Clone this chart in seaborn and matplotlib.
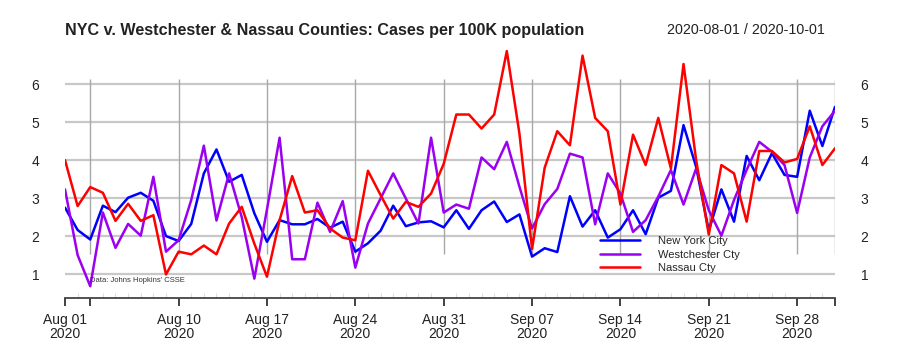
import pandas as pd
import seaborn as sns
import matplotlib.pyplot as plt
import matplotlib.dates as mdates

dates = pd.date_range('2020-08-01', '2020-10-01', freq='D')

nyc = [2.75, 2.16, 1.91, 2.80, 2.63, 3.01, 3.14, 2.93, 2.00, 1.87,
       2.32, 3.65, 4.28, 3.43, 3.61, 2.60, 1.85, 2.42, 2.31, 2.31,
       2.45, 2.22, 2.38, 1.59, 1.81, 2.14, 2.80, 2.26, 2.36, 2.39,
       2.23, 2.68, 2.19, 2.68, 2.91, 2.37, 2.57, 1.46, 1.68, 1.58,
       3.05, 2.25, 2.68, 1.96, 2.18, 2.68, 2.05, 3.01, 3.19, 4.92,
       3.82, 2.14, 3.23, 2.38, 4.11, 3.47, 4.18, 3.61, 3.56, 5.30,
       4.37, 5.40]
westchester = [3.23, 1.50, 0.68, 2.62, 1.69, 2.32, 2.01, 3.56, 1.59, 1.89,
               2.95, 4.38, 2.41, 3.65, 2.50, 0.88, 2.70, 4.59, 1.39, 1.39,
               2.88, 2.11, 2.92, 1.17, 2.33, 2.99, 3.65, 2.99, 2.33, 4.59,
               2.62, 2.83, 2.72, 4.07, 3.76, 4.48, 3.30, 2.20, 2.84, 3.24,
               4.17, 4.07, 2.31, 3.65, 3.12, 2.11, 2.42, 3.04, 3.74, 2.83,
               3.78, 2.68, 2.01, 2.95, 3.74, 4.48, 4.22, 3.87, 2.61, 4.07,
               4.89, 5.30]
nassau = [4.00, 2.79, 3.29, 3.14, 2.40, 2.85, 2.40, 2.55, 0.99, 1.59,
          1.52, 1.75, 1.52, 2.33, 2.77, 1.80, 0.93, 2.42, 3.58, 2.62,
          2.68, 2.20, 1.96, 1.89, 3.72, 3.08, 2.46, 2.90, 2.77, 3.12,
          3.90, 5.20, 5.20, 4.83, 5.20, 6.87, 4.70, 1.66, 3.80, 4.76,
          4.39, 6.75, 5.11, 4.76, 2.83, 4.67, 3.87, 5.11, 3.78, 6.53,
          4.00, 2.04, 3.87, 3.65, 2.38, 4.24, 4.24, 3.94, 4.03, 4.89,
          3.87, 4.31]

series_names = ['New York City', 'Westchester Cty', 'Nassau Cty']
series_colors = ['#0000ff', '#9b00f0', '#ff0000']

major_dates = pd.to_datetime(['2020-08-01', '2020-08-03', '2020-08-10', '2020-08-17',
                              '2020-08-24', '2020-08-31', '2020-09-07', '2020-09-14',
                              '2020-09-21', '2020-09-28', '2020-10-01'])
major_labels = ['Aug 01\n2020', '', 'Aug 10\n2020', 'Aug 17\n2020', 'Aug 24\n2020',
                'Aug 31\n2020', 'Sep 07\n2020', 'Sep 14\n2020', 'Sep 21\n2020',
                'Sep 28\n2020', '']
y_ticks = [1, 2, 3, 4, 5, 6]

df = pd.DataFrame({'date': list(dates) * 3,
                   'value': nyc + westchester + nassau,
                   'series': [s for s in series_names for _ in dates]})

sns.set_style('white')
plt.rcParams['font.family'] = ['Liberation Sans', 'DejaVu Sans']

fig = plt.figure(figsize=(9, 3.5), dpi=100)
ax = fig.add_axes([65 / 900, 52 / 350, 770 / 900, 253 / 350])

# grid first so the lines sit on top
for y in y_ticks:
    ax.axhline(y, color='#c8c8c8', lw=1.6, zorder=0)
ax.vlines(major_dates[1:], 1.53, 6.13, color='#a8a8a8', lw=1, zorder=0)

sns.lineplot(data=df, x='date', y='value', hue='series', hue_order=series_names,
             palette=series_colors, linewidth=1.8, ax=ax, zorder=3)

ax.set_xlim(dates[0], dates[-1])
ax.set_ylim(0.37, 7.03)
ax.set_xlabel('')
ax.set_ylabel('')

ax.set_xticks(major_dates)
ax.set_xticklabels(major_labels, fontsize=10, color='#222222', linespacing=1.05)
ax.xaxis.set_minor_locator(mdates.DayLocator())
ax.tick_params(axis='x', which='major', direction='out', length=5.5, width=1.3,
               color='#333333', pad=5, bottom=True)
ax.tick_params(axis='x', which='minor', direction='in', length=3.5, width=0.8,
               color='#dddddd', bottom=True)

ax.set_yticks(y_ticks)
ax.set_yticklabels([str(v) for v in y_ticks], fontsize=10, color='#222222')
ax.tick_params(axis='y', left=False, right=False, labelleft=True, labelright=True,
               pad=15)

for side in ['top', 'left', 'right']:
    ax.spines[side].set_visible(False)
ax.spines['bottom'].set_color('#444444')
ax.spines['bottom'].set_linewidth(1.3)

fig.text(65 / 900, 1 - 30 / 350, 'NYC v. Westchester & Nassau Counties: Cases per 100K population',
         fontsize=11.6, fontweight='bold', color='#222222', ha='left', va='center')
fig.text(825 / 900, 1 - 30 / 350, '2020-08-01 / 2020-10-01',
         fontsize=10.3, color='#222222', ha='right', va='center')
ax.text(dates[2], 0.93, "Data: Johns Hopkins' CSSE", fontsize=5.5, color='#333333',
        ha='left', va='top', zorder=4)

ax.legend(loc='upper left', bbox_to_anchor=(600 / 900, 1 - 236 / 350),
          bbox_transform=fig.transFigure, frameon=False, fontsize=8,
          handlelength=3.6, handletextpad=1.6, labelspacing=0.32,
          borderpad=0, borderaxespad=0)

fig.savefig('out.png', dpi=100)
